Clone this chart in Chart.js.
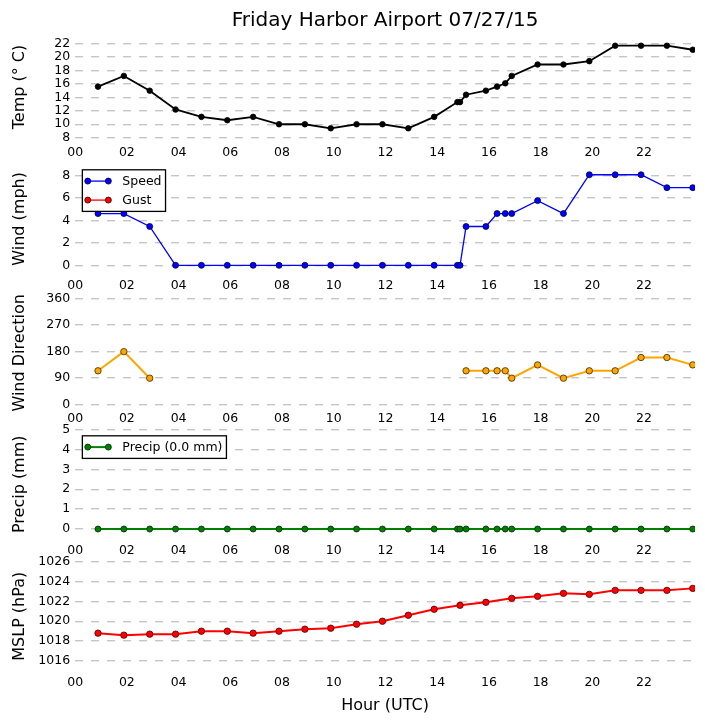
<!DOCTYPE html>
<html>
<head>
<meta charset="utf-8">
<script src="https://cdn.jsdelivr.net/npm/chart.js@4.4.0/dist/chart.umd.min.js"></script>
<style>
    html, body { margin: 0; padding: 0; background: #fff; }
    #wrap { position: relative; width: 705px; height: 726px; overflow: hidden; }
    #wrap canvas { position: absolute; left: 0; }
</style>
</head>
<body>
<div id="wrap"></div>
<script>
// Observation data, Friday Harbor Airport 07/27/15 (times UTC)
const chartTitle = 'Friday Harbor Airport 07/27/15';
const obsTimes = ['00:53', '01:53', '02:53', '03:53', '04:53', '05:53', '06:53', '07:53',
    '08:53', '09:53', '10:53', '11:53', '12:53', '13:53', '14:47', '14:53', '15:07', '15:53',
    '16:19', '16:38', '16:53', '17:53', '18:53', '19:53', '20:53', '21:53', '22:53', '23:53'];
const tempC = [15.6, 17.2, 15.0, 12.2, 11.1, 10.6, 11.1, 10.0, 10.0, 9.4, 10.0, 10.0, 9.4, 11.1,
    13.3, 13.3, 14.4, 15.0, 15.6, 16.1, 17.2, 18.9, 18.9, 19.4, 21.7, 21.7, 21.7, 21.1];
const windSpeed = [4.6, 4.6, 3.45, 0, 0, 0, 0, 0, 0, 0, 0, 0, 0, 0,
    0, 0, 3.45, 3.45, 4.6, 4.6, 4.6, 5.75, 4.6, 8.05, 8.05, 8.05, 6.9, 6.9];
const windGust = obsTimes.map(() => null); // no gusts reported
const windDir = [115, 180, 90, null, null, null, null, null, null, null, null, null, null, null,
    null, null, 115, 115, 115, 115, 90, 135, 90, 115, 115, 160, 160, 135];
const precipMm = [0, 0, 0, 0, 0, 0, 0, 0, 0, 0, 0, 0, 0, 0,
    0, 0, 0, 0, 0, 0, 0, 0, 0, 0, 0, 0, 0, 0];
const mslp = [1018.8, 1018.6, 1018.7, 1018.7, 1019.0, 1019.0, 1018.8, 1019.0, 1019.2, 1019.3,
    1019.7, 1020.0, 1020.6, 1021.2, null, 1021.6, null, 1021.9, null, null, 1022.3,
    1022.5, 1022.8, 1022.7, 1023.1, 1023.1, 1023.1, 1023.3];

// tick labels
const hourTicks = [0, 2, 4, 6, 8, 10, 12, 14, 16, 18, 20, 22];
const hourLabels = ['00', '02', '04', '06', '08', '10', '12', '14', '16', '18', '20', '22'];
const tempTicks = [8, 10, 12, 14, 16, 18, 20, 22];
const windTicks = [0, 2, 4, 6, 8];
const dirTicks = [0, 90, 180, 270, 360];
const precipTicks = [0, 1, 2, 3, 4, 5];
const mslpTicks = [1016, 1018, 1020, 1022, 1024, 1026];

const FONT = '"DejaVu Sans", Verdana, sans-serif';
Chart.defaults.font.family = FONT;
Chart.defaults.color = '#000';

const hours = obsTimes.map(t => {
    const [h, m] = t.split(':').map(Number);
    return h + m / 60;
});
const toPoints = vals => vals.map((v, i) => ({ x: hours[i], y: v }));

function lineSet(label, values, color, width, radius, edge, span) {
    return {
        label: label,
        data: toPoints(values),
        borderColor: color,
        backgroundColor: color,
        borderWidth: width,
        pointRadius: radius,
        pointBackgroundColor: color,
        pointBorderColor: edge,
        pointBorderWidth: 0.8,
        tension: 0,
        spanGaps: span
    };
}

// legend drawn inside the plot, upper left, with a black frame
const boxLegend = {
    id: 'boxLegend',
    afterDatasetsDraw(chart, args, opts) {
        if (!opts.show) return;
        const ctx = chart.ctx;
        const area = chart.chartArea;
        const sets = chart.data.datasets;
        ctx.save();
        ctx.font = '12.5px ' + FONT;
        const textW = Math.max(...sets.map(d => ctx.measureText(d.label).width));
        const x0 = area.left + 7.2;
        const y0 = area.top + 6.3;
        const w = 40 + textW + 4;
        const h = 22.6 + 19 * (sets.length - 1);
        ctx.fillStyle = '#fff';
        ctx.fillRect(x0, y0, w, h);
        ctx.strokeStyle = '#000';
        ctx.lineWidth = 1.3;
        ctx.strokeRect(x0, y0, w, h);
        sets.forEach((d, i) => {
            const cy = y0 + 11.3 + 19 * i;
            ctx.strokeStyle = d.borderColor;
            ctx.lineWidth = d.borderWidth;
            ctx.beginPath();
            ctx.moveTo(x0 + 5.4, cy);
            ctx.lineTo(x0 + 26, cy);
            ctx.stroke();
            [x0 + 5.4, x0 + 26].forEach(px => {
                ctx.beginPath();
                ctx.arc(px, cy, d.pointRadius, 0, Math.PI * 2);
                ctx.fillStyle = d.pointBackgroundColor;
                ctx.fill();
                ctx.strokeStyle = d.pointBorderColor;
                ctx.lineWidth = d.pointBorderWidth;
                ctx.stroke();
            });
            ctx.fillStyle = '#000';
            ctx.textBaseline = 'middle';
            ctx.textAlign = 'left';
            ctx.fillText(d.label, x0 + 40, cy + 0.5);
        });
        ctx.restore();
    }
};

// figure title centred over the plot area
const figTitle = {
    id: 'figTitle',
    afterDraw(chart, args, opts) {
        if (!opts.text) return;
        const ctx = chart.ctx;
        const area = chart.chartArea;
        ctx.save();
        ctx.font = '20px ' + FONT;
        ctx.fillStyle = '#000';
        ctx.textAlign = 'center';
        ctx.textBaseline = 'alphabetic';
        ctx.fillText(opts.text, (area.left + area.right) / 2, 25.7);
        ctx.restore();
    }
};

const panels = [
    { label: 'Temp (° C)', top: 32.3, bottom: 141.7, yMin: 7.4, yMax: 23.7, ticks: tempTicks,
      sets: [lineSet('Temp', tempC, '#000000', 1.8, 2.8, '#000000', false)], title: chartTitle },
    { label: 'Wind (mph)', top: 163.5, bottom: 274.3, yMin: -0.8, yMax: 9.05, ticks: windTicks,
      sets: [lineSet('Speed', windSpeed, '#0000ff', 1.3, 3, '#000033', false),
             lineSet('Gust', windGust, '#ff0000', 1.3, 3, '#330000', false)], legend: true },
    { label: 'Wind Direction', top: 298.3, bottom: 407.1, yMin: -8, yMax: 360, ticks: dirTicks,
      sets: [lineSet('Direction', windDir, '#ffa500', 2, 3.2, '#3d2a00', false)] },
    { label: 'Precip (mm)', top: 429.3, bottom: 539, yMin: -0.5, yMax: 5, ticks: precipTicks,
      sets: [lineSet('Precip (0.0 mm)', precipMm, '#008000', 2, 3, '#002a00', false)], legend: true },
    { label: 'MSLP (hPa)', top: 561, bottom: 671, yMin: 1015, yMax: 1026, ticks: mslpTicks,
      sets: [lineSet('MSLP', mslp, '#ff0000', 2, 3.2, '#4a0000', true)], xTitle: 'Hour (UTC)' }
];

const wrap = document.getElementById('wrap');
const X_LEFT = 75.15;
const X_RIGHT_PAD = 10;
const X_MAX = 23.97;

panels.forEach((p, idx) => {
    const canvasTop = idx === 0 ? 0 : Math.floor(p.top - 12);
    const canvasBottom = idx === panels.length - 1 ? 726 : Math.round(p.bottom + 22);
    const padTop = p.top - canvasTop;
    const xHeight = canvasBottom - p.bottom;

    const canvas = document.createElement('canvas');
    canvas.width = 705;
    canvas.height = canvasBottom - canvasTop;
    canvas.style.top = canvasTop + 'px';
    canvas.style.width = '705px';
    canvas.style.height = (canvasBottom - canvasTop) + 'px';
    wrap.appendChild(canvas);

    new Chart(canvas.getContext('2d'), {
        type: 'line',
        data: { datasets: p.sets },
        plugins: [boxLegend, figTitle],
        options: {
            responsive: false,
            animation: false,
            events: [],
            layout: { padding: { top: padTop, left: 0, right: X_RIGHT_PAD, bottom: 0 } },
            plugins: {
                legend: { display: false },
                tooltip: { enabled: false },
                boxLegend: { show: !!p.legend },
                figTitle: { text: p.title || '' }
            },
            scales: {
                x: {
                    type: 'linear',
                    min: 0,
                    max: X_MAX,
                    afterBuildTicks: s => { s.ticks = hourTicks.map(v => ({ value: v })); },
                    afterFit: s => { s.height = xHeight; },
                    ticks: {
                        callback: (v, i) => hourLabels[i],
                        font: { size: 12.5 },
                        color: '#000',
                        padding: 4,
                        maxRotation: 0,
                        autoSkip: false
                    },
                    grid: { display: false, drawTicks: false },
                    border: { display: false },
                    title: {
                        display: !!p.xTitle,
                        text: p.xTitle || '',
                        font: { size: 16 },
                        color: '#000',
                        padding: { top: 0, bottom: 10.4 }
                    }
                },
                y: {
                    min: p.yMin,
                    max: p.yMax,
                    afterBuildTicks: s => { s.ticks = p.ticks.map(v => ({ value: v })); },
                    afterFit: s => { s.width = X_LEFT; },
                    ticks: {
                        callback: v => String(v),
                        font: { size: 12.5 },
                        color: '#000',
                        padding: 5,
                        autoSkip: false
                    },
                    grid: { color: '#c6c6c6', lineWidth: 1.4, drawTicks: false },
                    border: { display: false, dash: [8, 8] },
                    title: {
                        display: true,
                        text: p.label,
                        font: { size: 16 },
                        color: '#000',
                        padding: { top: 10, bottom: 0 }
                    }
                }
            }
        }
    });
});
</script>
</body>
</html>
